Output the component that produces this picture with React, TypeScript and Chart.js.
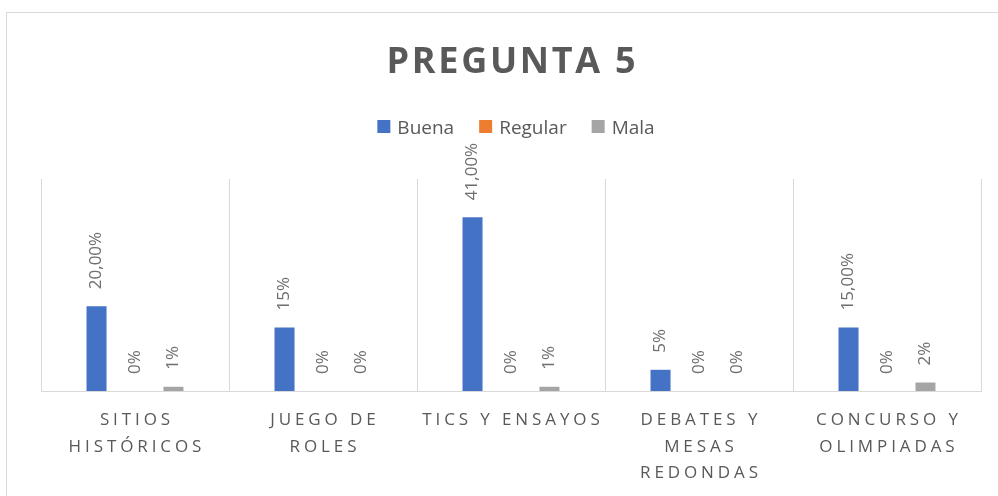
import React, { useEffect, useRef } from "react";
import Chart from "chart.js/auto";

const title = "PREGUNTA 5";
const categories: string[][] = [
  ["SITIOS", "HISTÓRICOS"],
  ["JUEGO DE", "ROLES"],
  ["TICS Y ENSAYOS"],
  ["DEBATES Y", "MESAS", "REDONDAS"],
  ["CONCURSO Y", "OLIMPIADAS"],
];
const seriesNames = ["Buena", "Regular", "Mala"];
const seriesColors = ["#4472C4", "#ED7D31", "#A5A5A5"];
const buena = [20, 15, 41, 5, 15];
const regular = [0, 0, 0, 0, 0];
const mala = [1, 0, 1, 0, 2];
const buenaLabels = ["20,00%", "15%", "41,00%", "5%", "15,00%"];
const regularLabels = ["0%", "0%", "0%", "0%", "0%"];
const malaLabels = ["1%", "0%", "1%", "0%", "2%"];
const yMax = 50;

const FONT = "'Open Sans', 'DejaVu Sans', sans-serif";
const TEXT = "#595959";

function drawSpaced(ctx: CanvasRenderingContext2D, text: string, cx: number, y: number, spacing: number) {
  (ctx as any).letterSpacing = spacing + "px";
  ctx.textAlign = "left";
  const w = ctx.measureText(text).width - spacing;
  ctx.fillText(text, cx - w / 2, y);
  (ctx as any).letterSpacing = "0px";
}

const decorPlugin = {
  id: "decor",
  afterDraw(chart: any) {
    const ctx: CanvasRenderingContext2D = chart.ctx;
    ctx.save();
    // Title
    ctx.fillStyle = TEXT;
    ctx.font = `bold 36px ${FONT}`;
    ctx.textBaseline = "alphabetic";
    drawSpaced(ctx, title, 511, 73, 2.7);

    // Legend
    ctx.font = `19px ${FONT}`;
    const box = 13, gapBT = 7, gapItem = 25;
    const widths = seriesNames.map((n) => ctx.measureText(n).width);
    let total = 0;
    widths.forEach((w, i) => {
      total += box + gapBT + w + (i < widths.length - 1 ? gapItem : 0);
    });
    let x = 516 - total / 2;
    seriesNames.forEach((n, i) => {
      ctx.fillStyle = chart.data.datasets[i].backgroundColor;
      ctx.fillRect(x, 120, box, box);
      ctx.fillStyle = TEXT;
      ctx.textAlign = "left";
      ctx.fillText(n, x + box + gapBT, 133.5);
      x += box + gapBT + widths[i] + gapItem;
    });

    // X labels
    const xScale = chart.scales.x;
    ctx.font = `17px ${FONT}`;
    ctx.fillStyle = TEXT;
    categories.forEach((lines, i) => {
      const cx = xScale.getPixelForValue(i);
      lines.forEach((line, j) => {
        drawSpaced(ctx, line, cx, 425 + j * 26.5, 3.9);
      });
    });

    // Data labels
    const labelSets = [buenaLabels, regularLabels, malaLabels];
    ctx.font = `17px ${FONT}`;
    ctx.fillStyle = "#6e6e6e";
    chart.data.datasets.forEach((ds: any, di: number) => {
      const meta = chart.getDatasetMeta(di);
      meta.data.forEach((el: any, i: number) => {
        ctx.save();
        ctx.translate(el.x, el.y - 17);
        ctx.rotate(-Math.PI / 2);
        ctx.textAlign = "left";
        ctx.textBaseline = "middle";
        ctx.fillText(labelSets[di][i], 0, 0);
        ctx.restore();
      });
    });
    ctx.restore();
  },
};

export default function App() {
  const ref = useRef<HTMLCanvasElement>(null);
  useEffect(() => {
    document.body.style.margin = "0";
    if (!ref.current) return;
    const chart = new Chart(ref.current, {
      type: "bar",
      data: {
        labels: categories.map((c) => c.join(" ")),
        datasets: [
          { label: seriesNames[0], data: buena, backgroundColor: seriesColors[0] },
          { label: seriesNames[1], data: regular, backgroundColor: seriesColors[1] },
          { label: seriesNames[2], data: mala, backgroundColor: seriesColors[2] },
        ],
      },
      options: {
        animation: false,
        responsive: false,
        devicePixelRatio: 1,
        layout: { padding: { left: 41, right: 17, top: 179, bottom: 105 } },
        plugins: {
          legend: { display: false },
          title: { display: false },
          tooltip: { enabled: false },
        },
        datasets: { bar: { categoryPercentage: 0.614, barPercentage: 0.52 } },
        scales: {
          x: {
            grid: { offset: true, color: "#d9d9d9", drawTicks: false, lineWidth: 1 },
            border: { color: "#d9d9d9" },
            ticks: { display: false },
          },
          y: { display: false, min: 0, max: yMax },
        },
      } as any,
      plugins: [decorPlugin],
    });
    return () => chart.destroy();
  }, []);
  return (
    <div style={{ position: "relative", width: 998, height: 496, overflow: "hidden", background: "#fff" }}>
      <div
        style={{
          position: "absolute",
          left: 6,
          top: 12,
          width: 1000,
          height: 500,
          border: "1px solid #d9d9d9",
          boxSizing: "border-box",
        }}
      />
      <canvas ref={ref} width={998} height={496} style={{ position: "absolute", left: 0, top: 0, width: 998, height: 496 }} />
    </div>
  );
}
